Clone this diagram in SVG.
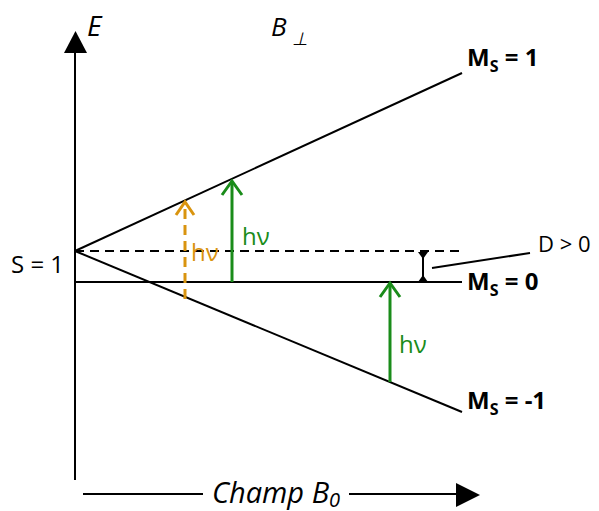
<svg xmlns="http://www.w3.org/2000/svg" width="599" height="511" viewBox="0 0 599 511">
<style>
.t{font-family:"Open Sans","Liberation Sans",sans-serif;fill:#000}
.it{font-style:italic}
.b{font-weight:bold}
.ln{stroke:#000;stroke-width:2;fill:none}
.g{stroke:#1a8c1a;stroke-width:3;fill:none}
.o{stroke:#d9940f;stroke-width:3;fill:none}
.hg{font-family:"Open Sans","Liberation Sans",sans-serif;font-size:24px;fill:#1a8c1a}
.ho{font-family:"Open Sans","Liberation Sans",sans-serif;font-size:24px;fill:#d9940f}
</style>
<rect width="599" height="511" fill="#fff"/>
<g id="axes">
<line class="ln" x1="75" y1="480" x2="75" y2="50"/>
<polygon points="64,53 87,53 75.5,31" fill="#000"/>
<line class="ln" x1="83" y1="494" x2="203" y2="494"/>
<line class="ln" x1="349" y1="494" x2="458" y2="494"/>
<polygon points="456,483 456,507 480,495" fill="#000"/>
<text class="t it" x="87" y="36" font-size="28">E</text>
<text class="t it" x="271" y="36" font-size="26">B</text>
<text class="t it" x="292" y="45" font-size="18">⊥</text>
<text class="t it" x="276" y="503" font-size="29" text-anchor="middle">Champ B<tspan font-size="20" dy="4">0</tspan></text>
</g>
<g id="levels">
<line class="ln" x1="75" y1="251" x2="462" y2="73"/>
<line class="ln" x1="75" y1="251" x2="462" y2="412"/>
<line class="ln" x1="75" y1="251" x2="462" y2="251" stroke-width="1.5" stroke-dasharray="9,6"/>
<line class="ln" x1="75" y1="282" x2="462" y2="282" stroke-width="3"/>
<text class="t" x="11" y="273" font-size="24">S = 1</text>
<text class="t b" x="467" y="66" font-size="24">M<tspan font-size="16" dy="6">S</tspan><tspan dy="-6"> = 1</tspan></text>
<text class="t b" x="467" y="290" font-size="24">M<tspan font-size="16" dy="6">S</tspan><tspan dy="-6"> = 0</tspan></text>
<text class="t b" x="467" y="409" font-size="24">M<tspan font-size="16" dy="6">S</tspan><tspan dy="-6"> = -1</tspan></text>
</g>
<g id="gap">
<line class="ln" x1="423" y1="254" x2="423" y2="280"/>
<polygon points="418,252 428,252 423,259" fill="#000"/>
<polygon points="418,282 428,282 423,275" fill="#000"/>
<line class="ln" x1="432" y1="268" x2="530" y2="253" stroke-width="1.5"/>
<text class="t" x="538" y="252" font-size="22">D &gt; 0</text>
</g>
<g id="transitions">
<line class="o" x1="185" y1="299" x2="185" y2="203" stroke-dasharray="10,6"/>
<polyline class="o" points="176,215 185,202 194,215"/>
<text class="ho" x="191" y="261">hν</text>
<line class="g" x1="232" y1="282" x2="232" y2="182"/>
<polyline class="g" points="222,195 232,181 242,195"/>
<text class="hg" x="242" y="245">hν</text>
<line class="g" x1="390" y1="382" x2="390" y2="284"/>
<polyline class="g" points="380,297 390,283 400,297"/>
<text class="hg" x="399" y="353">hν</text>
</g>
</svg>
